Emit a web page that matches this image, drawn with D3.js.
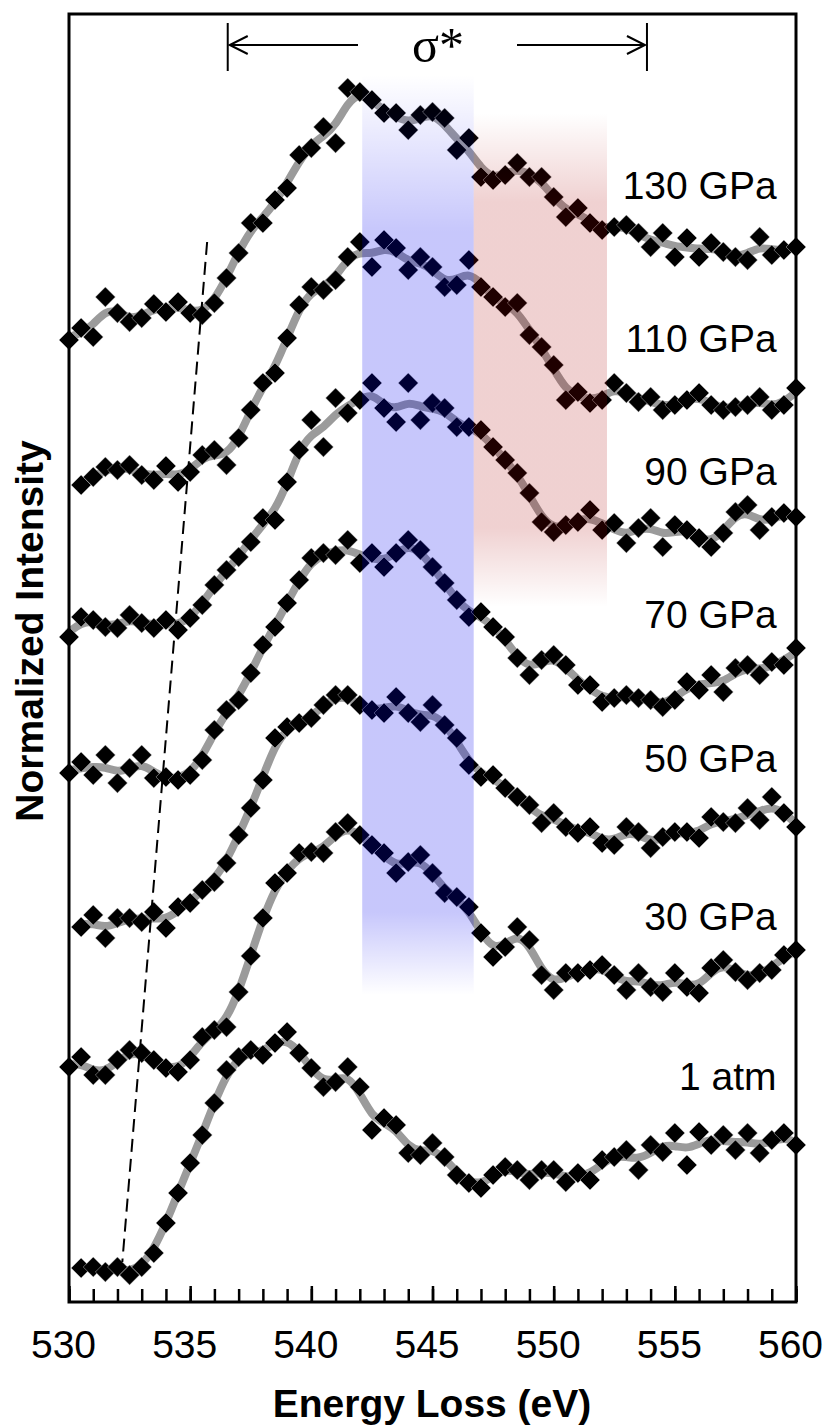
<!DOCTYPE html>
<html>
<head>
<meta charset="utf-8">
<script src="https://cdn.jsdelivr.net/npm/d3@7"></script>
<style>
body { margin: 0; background: #fff; }
svg { display: block; font-family: "Liberation Sans", Arial, sans-serif; }
</style>
</head>
<body>
<script>
const width = 827;
const height = 1426;

// energy grid (eV), one point every 0.5 eV
const energy = [530, 530.5, 531, 531.5, 532, 532.5, 533, 533.5, 534, 534.5, 535, 535.5, 536, 536.5, 537, 537.5,
  538, 538.5, 539, 539.5, 540, 540.5, 541, 541.5, 542, 542.5, 543, 543.5, 544, 544.5, 545, 545.5, 546, 546.5,
  547, 547.5, 548, 548.5, 549, 549.5, 550, 550.5, 551, 551.5, 552, 552.5, 553, 553.5, 554, 554.5, 555, 555.5,
  556, 556.5, 557, 557.5, 558, 558.5, 559, 559.5, 560];

const pressures = ["130 GPa", "110 GPa", "90 GPa", "70 GPa", "50 GPa", "30 GPa", "1 atm"];

// normalized intensity, already stacked with offsets (a.u.)
const gpa130 = [9.62, 9.74, 9.65, 10.05, 9.89, 9.80, 9.84, 9.98, 9.90, 10.00, 9.89, 9.87, 9.99, 10.24, 10.49, 10.79,
  10.79, 11.02, 11.14, 11.47, 11.54, 11.75, 11.59, 12.14, 12.10, 12.02, 11.89, 11.89, 11.72, 11.87, 11.90, 11.84,
  11.52, 11.64, 11.25, 11.22, 11.27, 11.39, 11.25, 11.25, 11.05, 10.85, 10.94, 10.79, 10.72, 10.75, 10.77, 10.69,
  10.55, 10.69, 10.45, 10.64, 10.45, 10.59, 10.50, 10.45, 10.42, 10.65, 10.47, 10.52, 10.55];
const gpa110 = [null, 8.17, 8.25, 8.35, 8.32, 8.37, 8.27, 8.22, 8.36, 8.20, 8.30, 8.47, 8.52, 8.37, 8.64, 8.92,
  9.19, 9.29, 9.64, 9.97, 10.15, 10.12, 10.22, 10.45, 10.60, 10.35, 10.62, 10.54, 10.32, 10.45, 10.35, 10.15,
  10.17, 10.42, 10.15, 10.05, 9.95, 9.99, 9.67, 9.55, 9.37, 9.02, 9.10, 8.99, 9.02, 9.19, 9.09, 9.00, 9.05, 8.92,
  8.97, 9.02, 9.09, 8.97, 8.92, 8.95, 8.97, 9.05, 8.92, 8.97, 9.14];
const gpa90 = [6.65, 6.85, 6.82, 6.75, 6.74, 6.87, 6.79, 6.74, 6.82, 6.72, 6.84, 6.97, 7.17, 7.32, 7.45, 7.60,
  7.84, 7.82, 8.20, 8.52, 8.82, 8.55, 9.04, 8.89, 9.02, 9.19, 8.94, 8.80, 9.19, 8.82, 8.99, 8.94, 8.75, 8.75,
  8.72, 8.55, 8.42, 8.29, 8.09, 7.80, 7.70, 7.77, 7.80, 7.92, 7.72, 7.79, 7.59, 7.74, 7.84, 7.55, 7.77, 7.72,
  7.64, 7.55, 7.69, 7.90, 7.97, 7.72, 7.85, 7.89, 7.85];
const gpa70 = [5.29, 5.40, 5.27, 5.47, 5.19, 5.34, 5.47, 5.24, 5.25, 5.22, 5.27, 5.42, 5.72, 5.92, 6.02, 6.29,
  6.57, 6.75, 6.99, 7.22, 7.44, 7.49, 7.47, 7.62, 7.39, 7.49, 7.35, 7.49, 7.62, 7.52, 7.35, 7.19, 7.02, 6.85,
  6.90, 6.75, 6.65, 6.44, 6.27, 6.42, 6.47, 6.37, 6.17, 6.17, 6.00, 6.04, 6.07, 6.04, 6.02, 5.95, 6.02, 6.20,
  6.12, 6.27, 6.10, 6.34, 6.37, 6.27, 6.40, 6.37, 6.54];
const gpa50 = [null, 3.75, 3.87, 3.64, 3.84, 3.84, 3.80, 3.90, 3.74, 3.95, 3.99, 4.12, 4.20, 4.39, 4.67, 4.94,
  5.22, 5.64, 5.75, 5.79, 5.84, 5.97, 6.07, 6.07, 5.97, 5.92, 5.89, 6.05, 5.89, 5.80, 5.97, 5.77, 5.64, 5.37,
  5.25, 5.27, 5.14, 5.05, 4.97, 4.79, 4.89, 4.75, 4.69, 4.75, 4.59, 4.57, 4.75, 4.70, 4.54, 4.65, 4.70, 4.70,
  4.64, 4.85, 4.80, 4.79, 4.94, 4.82, 5.05, 4.89, 4.75];
const gpa30 = [2.35, 2.45, 2.27, 2.27, 2.42, 2.52, 2.49, 2.42, 2.34, 2.30, 2.42, 2.65, 2.72, 2.75, 3.10, 3.46,
  3.84, 4.19, 4.29, 4.49, 4.50, 4.49, 4.70, 4.79, 4.67, 4.57, 4.49, 4.29, 4.40, 4.47, 4.29, 4.09, 4.05, 3.95,
  3.69, 3.45, 3.55, 3.75, 3.62, 3.27, 3.12, 3.29, 3.29, 3.32, 3.37, 3.27, 3.12, 3.29, 3.15, 3.10, 3.29, 3.15,
  3.09, 3.34, 3.42, 3.30, 3.22, 3.29, 3.32, 3.47, 3.52];
const atm1 = [null, 0.34, 0.35, 0.30, 0.35, 0.27, 0.35, 0.49, 0.79, 1.09, 1.39, 1.67, 1.99, 2.32, 2.45, 2.52,
  2.47, 2.59, 2.70, 2.49, 2.34, 2.15, 2.20, 2.35, 2.15, 1.72, 1.84, 1.77, 1.49, 1.47, 1.59, 1.45, 1.27, 1.19,
  1.14, 1.27, 1.35, 1.32, 1.22, 1.32, 1.32, 1.20, 1.29, 1.22, 1.42, 1.45, 1.52, 1.32, 1.57, 1.50, 1.69, 1.37,
  1.70, 1.57, 1.67, 1.52, 1.69, 1.49, 1.62, 1.69, 1.57];

const allSeries = [gpa130, gpa110, gpa90, gpa70, gpa50, gpa30, atm1];

// where each pressure label sits (intensity units)
const labelLevel = [11.03, 9.50, 8.17, 6.74, 5.30, 3.72, 2.12];

// onset guide line: [energy, intensity] at both ends
const onset = [[535.7, 10.60], [532.2, 0.40]];

const svg = d3.select('body').append('svg').attr('width', width).attr('height', height);

const x = d3.scaleLinear().domain([530, 560]).range([69, 796]);
const y = d3.scaleLinear().domain([0, 12.88]).range([1302, 14]);

// gradients for the shaded bands
const defs = svg.append("defs");
function fadeGradient(id, color, stops) {
  const g = defs.append("linearGradient").attr("id", id)
    .attr("x1", 0).attr("y1", 0).attr("x2", 0).attr("y2", 1);
  stops.forEach(s => {
    g.append("stop").attr("offset", s[0]).attr("stop-color", color).attr("stop-opacity", s[1]);
  });
}
fadeGradient("blueFade", "#0000f0", [[0, 0], [0.17, 0.22], [0.91, 0.22], [1, 0]]);
fadeGradient("redFade", "#aa0000", [[0, 0], [0.18, 0.18], [0.84, 0.18], [1, 0]]);

const line = d3.line()
  .x(d => x(d.e))
  .y(d => y(d.s))
  .curve(d3.curveBasis);

const diamond = d3.symbol().type(d3.symbolSquare).size(200);

allSeries.forEach(values => {
  const pts = energy.map((e, i) => ({ e: e, v: values[i] })).filter(d => d.v != null);
  // gray guide: light [1,2,1] smoothing of the measured points
  pts.forEach((d, i) => {
    const a = pts[Math.max(i - 1, 0)].v, b = pts[Math.min(i + 1, pts.length - 1)].v;
    d.s = (a + 2 * d.v + b) / 4;
  });

  svg.append("path")
    .datum(pts)
    .attr("d", line)
    .style("fill", "none")
    .style("stroke", "#9b9b9b")
    .style("stroke-width", 8)
    .style("stroke-linecap", "round")
    .style("stroke-linejoin", "round");

  svg.append("g").selectAll("path")
    .data(pts)
    .enter()
    .append("path")
    .attr("d", diamond)
    .attr("transform", d => `translate(${x(d.e)}, ${y(d.v)}) rotate(45)`)
    .style("fill", "black")
    .style("stroke", "#e0e0e0")
    .style("stroke-width", 0.4);
});

// shaded sigma* bands drawn over the spectra
svg.append("rect")
  .attr("x", x(542.1)).attr("width", x(546.7) - x(542.1))
  .attr("y", y(12.27)).attr("height", y(3.07) - y(12.27))
  .style("fill", "url(#blueFade)");
svg.append("rect")
  .attr("x", x(546.7)).attr("width", x(552.2) - x(546.7))
  .attr("y", y(11.89)).attr("height", y(6.95) - y(11.89))
  .style("fill", "url(#redFade)");

// dashed onset line
svg.append("line")
  .attr("x1", x(onset[0][0])).attr("y1", y(onset[0][1]))
  .attr("x2", x(onset[1][0])).attr("y2", y(onset[1][1]))
  .style("stroke", "black")
  .style("stroke-width", 2)
  .style("stroke-dasharray", "13,7");

// frame
svg.append("rect")
  .attr("x", 69).attr("y", 14)
  .attr("width", 796 - 69).attr("height", 1302 - 14)
  .style("fill", "none")
  .style("stroke", "black")
  .style("stroke-width", 3);

// minor ticks every 1 eV
svg.append("g")
  .attr("transform", "translate(0,1302)")
  .call(d3.axisBottom(x).tickValues(d3.range(530, 561, 1)).tickSize(-13).tickFormat(""))
  .call(g => g.select(".domain").remove())
  .call(g => g.selectAll("line").style("stroke-width", 2.5));

// major ticks + labels
svg.append("g")
  .attr("transform", "translate(0,1302)")
  .call(d3.axisBottom(x).tickValues([530, 535, 540, 545, 550, 555, 560]).tickSize(-16).tickPadding(28))
  .call(g => g.select(".domain").remove())
  .call(g => g.selectAll("line").style("stroke-width", 2.5))
  .call(g => g.selectAll("text")
    .attr("dx", -6)
    .style("font-size", "39px")
    .style("font-family", "'Liberation Sans', Arial, sans-serif")
    .style("fill", "black"));

svg.append("text")
  .attr("x", 432).attr("y", 1417)
  .attr("text-anchor", "middle")
  .style("font-size", "39px")
  .style("font-weight", "bold")
  .text("Energy Loss (eV)");

svg.append("text")
  .attr("transform", "translate(43,631) rotate(-90)")
  .attr("text-anchor", "middle")
  .style("font-size", "39px")
  .style("font-weight", "bold")
  .text("Normalized Intensity");

// pressure labels
svg.selectAll("text.pressure")
  .data(pressures)
  .enter()
  .append("text")
  .attr("class", "pressure")
  .attr("x", x(559.2))
  .attr("y", (d, i) => y(labelLevel[i]))
  .attr("text-anchor", "end")
  .style("font-size", "39px")
  .text(d => d);

// sigma* range arrow
const sigmaRange = [536.55, 553.85];
const ay = 45;
const sig = svg.append("g").style("stroke", "black").style("stroke-width", 2).style("fill", "none");
sig.append("line").attr("x1", x(sigmaRange[0])).attr("x2", x(sigmaRange[0])).attr("y1", 23).attr("y2", 71);
sig.append("line").attr("x1", x(sigmaRange[1])).attr("x2", x(sigmaRange[1])).attr("y1", 23).attr("y2", 71);
sig.append("line").attr("x1", x(sigmaRange[0]) + 2).attr("x2", 358).attr("y1", ay).attr("y2", ay);
sig.append("line").attr("x1", 517).attr("x2", x(sigmaRange[1]) - 2).attr("y1", ay).attr("y2", ay);
sig.append("path").attr("d", `M${x(sigmaRange[0]) + 20},${ay - 9} L${x(sigmaRange[0]) + 2},${ay} L${x(sigmaRange[0]) + 20},${ay + 9}`);
sig.append("path").attr("d", `M${x(sigmaRange[1]) - 20},${ay - 9} L${x(sigmaRange[1]) - 2},${ay} L${x(sigmaRange[1]) - 20},${ay + 9}`);

svg.append("text")
  .attr("x", 438).attr("y", 62)
  .attr("text-anchor", "middle")
  .style("font-family", "'Liberation Serif', 'Times New Roman', serif")
  .style("font-size", "50px")
  .text("σ*");
</script>
</body>
</html>
